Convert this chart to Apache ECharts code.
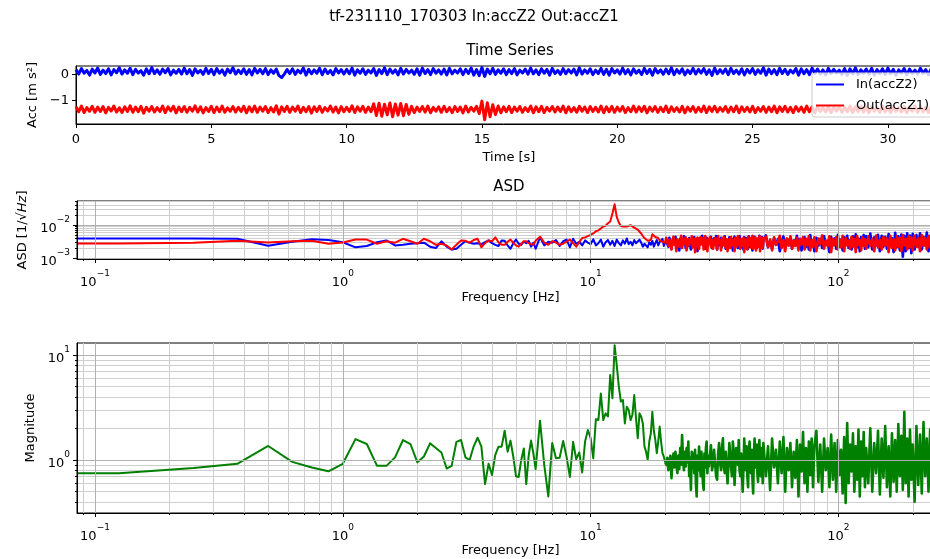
<!DOCTYPE html>
<html><head><meta charset="utf-8">
<script src="https://cdn.jsdelivr.net/npm/echarts@6/dist/echarts.min.js"></script>
<style>html,body{margin:0;padding:0;background:#fff}#c{width:930px;height:559px}</style>
</head><body><div id="c"></div>
<script>
const FONT = 'DejaVu Sans';
const mainTitle = 'tf-231110_170303 In:accZ2 Out:accZ1';
const panelTitles = ['Time Series', 'ASD'];
const legendNames = ['In(accZ2)', 'Out(accZ1)'];
const timeTicks = [0, 5, 10, 15, 20, 25, 30];
const accTicks = [-1, 0];
const freqTicks = [0.1, 1, 10, 100];
const freqMinor = [0.09,0.2,0.3,0.4,0.5,0.6,0.7,0.8,0.9,2,3,4,5,6,7,8,9,20,30,40,50,60,70,80,90,200];
const asdTicks = [0.001, 0.01];
const asdMinor = [0.002,0.003,0.004,0.005,0.006,0.007,0.008,0.009,0.02,0.03,0.04,0.05];
const magTicks = [1, 10];
const magMinor = [0.4,0.5,0.6,0.7,0.8,0.9,2,3,4,5,6,7,8,9];

const time = [
0,0.1,0.2,0.3,0.4,0.5,0.6,0.7,0.8,0.9,
1,1.1,1.2,1.3,1.4,1.5,1.6,1.7,1.8,1.9,
2,2.1,2.2,2.3,2.4,2.5,2.6,2.7,2.8,2.9,
3,3.1,3.2,3.3,3.4,3.5,3.6,3.7,3.8,3.9,
4,4.1,4.2,4.3,4.4,4.5,4.6,4.7,4.8,4.9,
5,5.1,5.2,5.3,5.4,5.5,5.6,5.7,5.8,5.9,
6,6.1,6.2,6.3,6.4,6.5,6.6,6.7,6.8,6.9,
7,7.1,7.2,7.3,7.4,7.5,7.6,7.7,7.8,7.9,
8,8.1,8.2,8.3,8.4,8.5,8.6,8.7,8.8,8.9,
9,9.1,9.2,9.3,9.4,9.5,9.6,9.7,9.8,9.9,
10,10.1,10.2,10.3,10.4,10.5,10.6,10.7,10.8,10.9,
11,11.1,11.2,11.3,11.4,11.5,11.6,11.7,11.8,11.9,
12,12.1,12.2,12.3,12.4,12.5,12.6,12.7,12.8,12.9,
13,13.1,13.2,13.3,13.4,13.5,13.6,13.7,13.8,13.9,
14,14.1,14.2,14.3,14.4,14.5,14.6,14.7,14.8,14.9,
15,15.1,15.2,15.3,15.4,15.5,15.6,15.7,15.8,15.9,
16,16.1,16.2,16.3,16.4,16.5,16.6,16.7,16.8,16.9,
17,17.1,17.2,17.3,17.4,17.5,17.6,17.7,17.8,17.9,
18,18.1,18.2,18.3,18.4,18.5,18.6,18.7,18.8,18.9,
19,19.1,19.2,19.3,19.4,19.5,19.6,19.7,19.8,19.9,
20,20.1,20.2,20.3,20.4,20.5,20.6,20.7,20.8,20.9,
21,21.1,21.2,21.3,21.4,21.5,21.6,21.7,21.8,21.9,
22,22.1,22.2,22.3,22.4,22.5,22.6,22.7,22.8,22.9,
23,23.1,23.2,23.3,23.4,23.5,23.6,23.7,23.8,23.9,
24,24.1,24.2,24.3,24.4,24.5,24.6,24.7,24.8,24.9,
25,25.1,25.2,25.3,25.4,25.5,25.6,25.7,25.8,25.9,
26,26.1,26.2,26.3,26.4,26.5,26.6,26.7,26.8,26.9,
27,27.1,27.2,27.3,27.4,27.5,27.6,27.7,27.8,27.9,
28,28.1,28.2,28.3,28.4,28.5,28.6,28.7,28.8,28.9,
29,29.1,29.2,29.3,29.4,29.5,29.6,29.7,29.8,29.9,
30,30.1,30.2,30.3,30.4,30.5,30.6,30.7,30.8,30.9,
31,31.1,31.2,31.3,31.4,31.5,31.6,31.7,31.8,31.9,
32];
const accIn = [
0.19,0.02,0.23,0.05,0.16,-0.02,0.21,0.06,0.25,0.01,
0.17,0.04,0.22,-0.01,0.19,0.07,0.26,0.02,0.18,0.05,
0.24,0.00,0.20,0.06,0.15,-0.02,0.22,0.03,0.27,0.04,
0.18,0.01,0.21,0.07,0.23,-0.01,0.17,0.05,0.20,0.02,
0.25,0.03,0.19,-0.03,0.22,0.06,0.16,0.01,0.24,0.04,
0.20,0.00,0.23,0.05,0.18,-0.02,0.21,0.07,0.26,0.02,
0.17,0.04,0.22,0.01,0.19,-0.01,0.24,0.06,0.20,0.03,
0.23,0.00,0.18,0.05,0.21,-0.04,-0.11,0.02,0.19,0.04,
0.22,0.01,0.17,0.06,0.25,-0.02,0.20,0.03,0.18,0.05,
0.24,0.00,0.21,0.04,0.16,-0.01,0.23,0.06,0.19,0.02,
0.20,0.03,0.25,-0.02,0.18,0.05,0.22,0.01,0.17,0.06,
0.23,-0.03,0.19,0.04,0.26,0.00,0.21,0.05,0.18,-0.01,
0.24,0.02,0.20,0.06,0.17,0.01,0.22,-0.02,0.25,0.04,
0.19,0.00,0.23,0.05,0.18,0.02,0.21,-0.01,0.24,0.03,
0.17,0.06,0.22,0.00,0.20,0.04,0.25,-0.02,0.19,-0.04,
0.27,-0.07,0.21,0.03,0.24,0.01,0.18,0.05,0.22,0.00,
0.19,0.04,0.23,-0.01,0.17,0.06,0.21,0.02,0.25,0.03,
0.18,0.00,0.22,0.05,0.20,-0.02,0.24,0.04,0.16,0.01,
0.23,0.03,0.19,0.06,0.21,-0.01,0.26,0.02,0.18,0.05,
0.22,0.00,0.17,0.04,0.24,0.01,0.20,-0.02,0.23,0.06,
0.18,0.02,0.25,0.03,0.19,-0.01,0.22,0.05,0.17,0.00,
0.24,0.04,0.20,-0.02,0.23,0.06,0.18,0.01,0.21,0.03,
0.26,0.00,0.19,0.05,0.22,-0.01,0.17,0.04,0.24,0.02,
0.20,0.06,0.23,0.01,0.18,-0.03,0.25,0.03,0.19,0.05,
0.21,0.00,0.24,0.04,0.17,0.02,0.22,-0.01,0.20,0.06,
0.23,0.01,0.18,0.05,0.26,-0.02,0.21,0.03,0.19,0.00,
0.24,0.04,0.20,0.01,0.17,0.06,0.23,-0.02,0.22,0.03,
0.19,0.00,0.25,0.05,0.21,0.02,0.18,-0.01,0.24,0.04,
0.20,0.06,0.17,0.01,0.23,-0.02,0.22,0.03,0.26,0.00,
0.18,0.05,0.21,0.02,0.24,-0.01,0.19,0.04,0.22,0.01,
0.25,0.03,0.20,-0.02,0.18,0.06,0.23,0.00,0.21,0.04,
0.17,0.02,0.24,0.05,0.19,-0.01,0.22,0.03,0.26,0.01,
0.20];
const accOut = [
-1.24,-1.43,-1.21,-1.46,-1.27,-1.41,-1.22,-1.45,-1.25,-1.42,
-1.23,-1.47,-1.26,-1.40,-1.21,-1.44,-1.28,-1.46,-1.24,-1.42,
-1.20,-1.45,-1.25,-1.43,-1.22,-1.48,-1.26,-1.41,-1.23,-1.44,
-1.27,-1.42,-1.21,-1.46,-1.24,-1.40,-1.22,-1.47,-1.25,-1.43,
-1.23,-1.45,-1.26,-1.41,-1.20,-1.44,-1.24,-1.47,-1.27,-1.42,
-1.22,-1.46,-1.25,-1.43,-1.21,-1.45,-1.28,-1.41,-1.23,-1.44,
-1.26,-1.42,-1.22,-1.47,-1.24,-1.43,-1.21,-1.45,-1.25,-1.41,
-1.23,-1.46,-1.27,-1.44,-1.20,-1.52,-1.24,-1.42,-1.22,-1.45,
-1.25,-1.41,-1.21,-1.46,-1.26,-1.43,-1.23,-1.48,-1.24,-1.42,
-1.22,-1.45,-1.27,-1.40,-1.21,-1.44,-1.25,-1.47,-1.23,-1.43,
-1.26,-1.42,-1.20,-1.46,-1.24,-1.41,-1.22,-1.45,-1.25,-1.43,
-1.12,-1.57,-1.10,-1.60,-1.14,-1.55,-1.09,-1.62,-1.13,-1.56,
-1.11,-1.58,-1.15,-1.53,-1.22,-1.46,-1.25,-1.42,-1.23,-1.44,
-1.21,-1.47,-1.26,-1.41,-1.24,-1.45,-1.22,-1.43,-1.27,-1.46,
-1.23,-1.42,-1.25,-1.47,-1.21,-1.44,-1.26,-1.41,-1.22,-1.50,
-1.02,-1.74,-1.08,-1.62,-1.16,-1.54,-1.21,-1.47,-1.24,-1.43,
-1.22,-1.46,-1.25,-1.41,-1.23,-1.45,-1.27,-1.42,-1.21,-1.47,
-1.24,-1.43,-1.22,-1.46,-1.26,-1.40,-1.23,-1.44,-1.25,-1.42,
-1.21,-1.47,-1.24,-1.43,-1.27,-1.45,-1.22,-1.41,-1.25,-1.46,
-1.23,-1.42,-1.26,-1.44,-1.21,-1.47,-1.24,-1.43,-1.22,-1.45,
-1.25,-1.41,-1.23,-1.46,-1.27,-1.43,-1.21,-1.44,-1.24,-1.42,
-1.22,-1.47,-1.25,-1.41,-1.23,-1.45,-1.26,-1.43,-1.21,-1.46,
-1.24,-1.42,-1.27,-1.44,-1.22,-1.47,-1.25,-1.41,-1.23,-1.45,
-1.26,-1.43,-1.21,-1.46,-1.24,-1.42,-1.22,-1.44,-1.27,-1.41,
-1.23,-1.45,-1.25,-1.43,-1.21,-1.47,-1.24,-1.42,-1.26,-1.44,
-1.22,-1.46,-1.27,-1.41,-1.23,-1.45,-1.25,-1.43,-1.21,-1.47,
-1.24,-1.42,-1.22,-1.44,-1.26,-1.46,-1.23,-1.41,-1.25,-1.45,
-1.21,-1.43,-1.24,-1.47,-1.22,-1.42,-1.27,-1.44,-1.23,-1.46,
-1.25,-1.41,-1.23,-1.45,-1.26,-1.43,-1.21,-1.46,-1.24,-1.42,
-1.22,-1.44,-1.25,-1.47,-1.23,-1.41,-1.26,-1.45,-1.21,-1.43,
-1.24,-1.46,-1.22,-1.42,-1.27,-1.44,-1.23,-1.47,-1.25,-1.41,
-1.21,-1.45,-1.24,-1.43,-1.26,-1.46,-1.22,-1.42,-1.25,-1.44,
-1.23];

const freq = [0.0846,
0.125,0.25,0.375,0.5,0.625,0.75,0.875,1,
1.125,1.25,1.375,1.5,1.625,1.75,1.875,2,
2.125,2.25,2.375,2.5,2.625,2.75,2.875,3,
3.125,3.25,3.375,3.5,3.625,3.75,3.875,4,
4.125,4.25,4.375,4.5,4.625,4.75,4.875,5,
5.125,5.25,5.375,5.5,5.625,5.75,5.875,6,
6.25,6.5,6.75,7,7.25,7.5,7.75,8,
8.25,8.5,8.75,9,9.25,9.5,9.75,10,
10.25,10.5,10.75,11,11.25,11.5,11.75,12,
12.25,12.5,12.75,13,13.25,13.5,13.75,14,
14.25,14.5,14.75,15,15.25,15.5,15.75,16,
16.25,16.5,16.75,17,17.25,17.5,17.75,18,
18.25,18.5,18.75,19,19.25,19.5,19.75,20,
20.2,20.4,20.6,20.8,21,21.2,21.4,21.6,21.8,22,
22.2,22.4,22.6,22.8,23,23.2,23.4,23.6,23.8,24,
24.2,24.4,24.6,24.8,25,25.2,25.4,25.6,25.8,26,
26.2,26.4,26.6,26.8,27,27.2,27.4,27.6,27.8,28,
28.2,28.4,28.6,28.8,29,29.2,29.4,29.6,29.8,30,
30.3,30.6,30.9,31.2,31.5,31.8,32.1,32.4,32.7,33,
33.3,33.6,33.9,34.2,34.5,34.8,35.1,35.4,35.7,36,
36.3,36.6,36.9,37.2,37.5,37.8,38.1,38.4,38.7,39,
39.3,39.6,39.9,40.2,40.5,40.8,41.1,41.4,41.7,42,
42.3,42.6,42.9,43.2,43.5,43.8,44.1,44.4,44.7,45,
45.3,45.6,45.9,46.2,46.5,46.8,47.1,47.4,47.7,48,
48.3,48.6,48.9,49.2,49.5,49.8,
51,52,53,54,55,56,57,58,59,60,61,62,63,64,65,66,67,68,69,70,71,72,73,74,75,76,77,78,79,80,
81.5,83,84.5,86,87.5,89,90.5,92,93.5,95,96.5,98,99.5,101,102.5,104,105.5,107,108.5,110,111.5,113,114.5,116,117.5,119,120.5,122,123.5,125,126.5,128,129.5,
132,134.5,137,139.5,142,144.5,147,149.5,152,154.5,157,159.5,162,164.5,167,169.5,172,174.5,177,179.5,182,184.5,187,189.5,192,194.5,197,199.5,
203,206.5,210,213.5,217,220.5,224,227.5,231,234.5,238,241.5,245,248.5,252,255.5,259,262.5,266,269.5];

const asdIn = [0.0039,
0.0039,0.0039,0.0038,0.00234,0.0031,0.0037,0.0035,0.003,
0.0021,0.0023,0.003,0.0034,0.0024,0.0025,0.0027,0.0028,
0.0029,0.0022,0.002,0.0032,0.0022,0.0018,0.0019,0.0025,
0.0032,0.0029,0.0027,0.0028,0.0026,0.003,0.0034,0.0028,
0.0025,0.0023,0.0034,0.0033,0.0024,0.0019,0.0028,0.0036,
0.0027,0.0025,0.0031,0.0028,0.0033,0.0022,0.0029,0.0019,
0.0042,0.0024,0.0031,0.0029,0.0035,0.0023,0.0032,0.0036,
0.0021,0.0038,0.0027,0.0031,0.0024,0.0034,0.0029,0.0026,
0.0037,0.0024,0.0028,0.0036,0.0022,0.003,0.0035,0.0025,
0.0033,0.0023,0.0036,0.0028,0.0024,0.0034,0.0027,0.0039,
0.0026,0.0031,0.0024,0.0035,0.0028,0.0025,0.0036,0.0029,
0.0022,0.0027,0.0024,0.0021,0.003,0.0025,0.0033,0.0022,
0.0028,0.0035,0.0024,0.003,0.0027,0.0038,0.0023,0.0032,
0.0036,0.0027,0.0022,0.0041,0.003,0.0019,0.0033,0.0038,0.0026,0.0044,
0.0021,0.0031,0.0035,0.0017,0.0038,0.0028,0.0024,0.0029,0.0045,0.0032,
0.002,0.0034,0.0039,0.0023,0.004,0.0027,0.0018,0.0032,0.0036,0.0025,
0.0043,0.0021,0.003,0.0035,0.0016,0.0033,0.0039,0.0025,0.0022,0.0031,
0.0047,0.0029,0.0022,0.0036,0.0019,0.0034,0.0041,0.0026,0.0023,0.0037,
0.0028,0.0044,0.002,0.0033,0.0039,0.0025,0.0046,0.0018,0.0031,0.0036,
0.0024,0.0041,0.0022,0.0033,0.0027,0.0045,0.0019,0.0035,0.0039,0.0025,
0.0042,0.0022,0.003,0.0036,0.0017,0.0034,0.0044,0.0023,0.0029,0.0038,
0.002,0.0033,0.0046,0.0026,0.0021,0.0037,0.0032,0.0018,0.0043,0.0028,
0.0024,0.0039,0.0034,0.0019,0.0045,0.0027,0.0022,0.0036,0.0031,0.0017,
0.0041,0.0029,0.0044,0.0023,0.0035,0.002,0.0038,0.0026,0.0032,0.0047,
0.0021,0.0036,0.0028,0.0043,0.0019,0.0034,
0.0048,0.0021,0.0033,0.0019,0.004,0.0025,0.0037,0.0016,0.0031,0.0045,0.0022,0.0036,0.0024,0.0042,0.0019,0.0034,0.0028,0.0047,0.0021,0.0038,0.0017,0.0035,0.0043,0.0022,0.0037,0.0018,0.0049,0.0025,0.0034,0.0016,
0.0041,0.0023,0.0038,0.002,0.0046,0.0027,0.0033,0.0015,0.0044,0.0024,0.0039,0.0019,0.005,0.0022,0.0036,0.0017,0.0042,0.0026,0.0047,0.002,0.0035,0.0018,0.0045,0.0023,0.0052,0.0021,0.0038,0.0016,0.0043,0.0025,0.0049,0.0019,0.0046,
0.0021,0.0055,0.0018,0.0042,0.0024,0.005,0.0016,0.0047,0.0022,0.0044,0.0019,0.0053,0.0023,0.004,0.0015,0.0058,0.0021,0.0045,0.0017,0.0051,0.0011,0.0047,0.0016,0.0056,0.002,0.0048,0.0014,0.0054,
0.0018,0.0049,0.0022,0.0056,0.0018,0.0044,0.0024,0.0059,0.0016,0.0047,0.002,0.0053,0.0015,0.0061,0.0022,0.0048,0.0017,0.0055,0.0021,0.0046];

const asdOut = [0.00275,
0.00275,0.0029,0.0033,0.00295,0.0032,0.0033,0.0027,0.00295,
0.0036,0.0036,0.0027,0.0032,0.0029,0.0038,0.0032,0.0027,
0.0038,0.0032,0.0025,0.0027,0.0024,0.0018,0.0025,0.0034,
0.0033,0.0029,0.0035,0.0038,0.0021,0.0028,0.0034,0.0032,
0.0042,0.003,0.0025,0.0025,0.0031,0.0036,0.0029,0.0024,
0.0022,0.0027,0.0032,0.0032,0.0028,0.0026,0.0025,0.0033,
0.0044,0.0029,0.0025,0.0032,0.0029,0.0025,0.0027,0.0031,
0.0036,0.0028,0.0022,0.003,0.004,0.0042,0.0046,0.005,
0.0055,0.0064,0.0068,0.0078,0.0089,0.0095,0.0112,0.0126,
0.022,0.042,0.0175,0.0118,0.0092,0.0089,0.0094,0.0089,
0.0093,0.0098,0.0087,0.0083,0.0079,0.0072,0.0067,0.0055,
0.0046,0.004,0.0036,0.0033,0.0032,0.0035,0.0052,0.0046,
0.0043,0.0039,0.004,0.0034,0.0036,0.0031,0.0033,0.0029,
0.0041,0.003,0.0023,0.0036,0.0027,0.0018,0.0034,0.0044,0.0025,0.0031,
0.0016,0.0037,0.0039,0.0022,0.0028,0.0047,0.002,0.0033,0.0038,0.0026,
0.0042,0.0017,0.0031,0.0037,0.0024,0.0035,0.0029,0.0045,0.0021,0.0032,
0.0038,0.0015,0.0027,0.0035,0.0041,0.0023,0.0019,0.0034,0.0043,0.0026,
0.0031,0.004,0.0018,0.0029,0.0046,0.0024,0.0033,0.0016,0.0037,0.0027,
0.0043,0.0022,0.0035,0.0019,0.0032,0.004,0.0026,0.0018,0.0046,0.0029,
0.0034,0.0017,0.0039,0.0024,0.0044,0.0027,0.0021,0.0037,0.0016,0.0032,
0.0037,0.002,0.0043,0.0028,0.0024,0.0035,0.0016,0.0041,0.003,0.0022,
0.0046,0.0026,0.0034,0.0019,0.0038,0.0033,0.0023,0.0041,0.0015,0.0031,
0.0036,0.0027,0.0018,0.0044,0.0025,0.0032,0.004,0.0021,0.0029,0.0047,
0.0019,0.0035,0.0024,0.0042,0.0017,0.0033,0.0038,0.0022,0.0027,0.0045,
0.0016,0.0036,0.0029,0.0041,0.002,0.0034,
0.0044,0.0022,0.0036,0.0017,0.0042,0.0025,0.0031,0.0047,0.002,0.0035,0.0016,0.0039,0.0024,0.0045,0.0019,0.0034,0.0023,0.0041,0.0017,0.0037,0.0026,0.0043,0.0018,0.0038,0.0024,0.0046,0.0017,0.0035,0.0022,0.0042,
0.0016,0.0039,0.0027,0.0048,0.0019,0.0034,0.0023,0.0045,0.0015,0.0037,0.0025,0.0043,0.0018,0.0036,0.0021,0.0047,0.0016,0.004,0.0024,0.0033,0.0019,0.0044,0.0022,0.0038,0.0015,0.0046,0.0025,0.0035,0.0017,0.0042,0.0023,0.0037,0.0019,
0.0045,0.0023,0.0038,0.0016,0.0048,0.0021,0.0036,0.0018,0.0044,0.0024,0.0039,0.0015,0.0047,0.002,0.0037,0.0017,0.0046,0.0022,0.0041,0.0016,0.0049,0.0024,0.0038,0.0018,0.0045,0.0021,0.0043,0.0017,
0.0047,0.0022,0.0039,0.0016,0.0049,0.0023,0.0041,0.0018,0.0046,0.0021,0.0044,0.0015,0.0048,0.0024,0.0038,0.0017,0.0047,0.0022,0.0043,0.0019];

const magnitude = [0.75,
0.75,0.84,0.92,1.36,0.96,0.85,0.78,0.92,
1.58,1.42,0.88,0.88,1.06,1.55,1.42,0.95,
1.08,1.44,1.30,1.18,0.83,0.88,1.49,1.55,
1.06,1.00,1.35,1.63,1.34,0.59,0.92,0.72,
1.12,1.34,1.34,1.90,1.20,1.53,1.08,0.70,
0.69,1.00,1.29,0.59,1.10,1.53,1.16,0.82,
2.37,0.90,0.45,1.45,1.04,1.05,1.52,1.07,
0.69,1.49,1.02,1.18,0.76,1.50,1.93,1.62,
1.04,2.44,2.40,4.30,2.40,2.78,2.60,6.45,
3.87,12.4,8.0,5.0,3.6,3.73,2.23,3.22,
3.0,2.4,2.7,4.16,2.5,1.61,2.78,2.6,
2.23,1.34,1.2,1.0,1.5,1.79,2.88,1.9,
1.55,1.16,1.5,2.08,1.5,1.16,1.075,0.95,
0.9,1.05,0.8,0.95,1.1,0.67,0.95,1.15,0.85,1.2,
0.9,0.75,1.1,0.82,1.3,0.9,1.73,1.05,0.8,1.2,
0.87,1.3,0.95,1.5,0.7,1.05,0.52,1.2,0.85,1.15,
0.75,1.25,0.6,0.45,1.1,0.8,1.34,0.95,0.7,1.2,
0.9,0.6,0.52,1.15,0.85,1.3,1.5,0.75,1.1,0.87,
1.1,1.38,0.8,0.9,1.25,1.2,0.7,0.65,1.15,1.45,
0.95,0.8,1.3,1.61,0.85,0.75,1.2,1.25,0.6,0.9,
1.45,1.1,0.85,0.7,1.5,1.2,0.58,0.9,1.3,1.05,
0.9,1.55,0.8,0.7,1.15,1.2,0.5,0.85,1.6,1.0,
0.8,1.35,0.7,0.55,1.2,1.5,0.95,0.75,1.25,0.65,
0.48,1.1,1.6,0.85,0.9,1.4,0.75,0.62,1.2,1.55,
0.9,0.7,1.3,1.1,0.6,1.45,
0.7,1.35,0.52,1.6,0.85,1.25,0.6,1.5,0.75,1.65,0.5,1.3,0.8,1.45,0.55,1.2,0.68,1.55,0.45,1.4,0.78,1.85,0.6,1.3,0.5,1.5,0.72,1.6,0.55,1.35,
1.9,0.62,1.4,0.5,1.6,0.8,1.3,0.55,1.75,0.65,1.45,0.5,1.55,0.72,1.25,0.48,1.65,0.39,2.25,0.6,1.4,0.78,1.8,0.5,1.35,0.65,1.95,0.45,1.5,0.7,1.85,0.55,1.3,
0.6,2.0,0.5,1.45,0.75,1.9,0.47,1.6,0.68,2.1,0.55,1.35,0.45,1.8,0.62,1.55,0.5,2.2,0.7,1.7,0.52,2.87,0.6,1.6,0.45,1.95,0.65,1.4,
0.4,2.1,0.58,1.75,0.48,2.3,0.7,1.6,0.5,1.95,0.62,2.2,0.45,1.5,0.68,2.0,0.5,1.8,0.6,1.7];

function pow10(v) {
  const k = Math.round(Math.log10(v));
  return '{b|10}{s|' + (k < 0 ? '\u2212' + (-k) : String(k)) + '}';
}
const supRich = {
  b: {fontSize: 13, fontFamily: FONT, color: '#000', lineHeight: 20, verticalAlign: 'bottom'},
  s: {fontSize: 9, fontFamily: FONT, color: '#000', lineHeight: 11, verticalAlign: 'top'}
};
const black = '#000';
const majorGrid = {show: true, lineStyle: {color: '#b0b0b0', width: 1}};
const minorGrid = {show: true, lineStyle: {color: '#cfcfcf', width: 1}};
const FMIN = 0.0846, FMAX = 266.8;

function logAxisPair(gridIndex, isX, min, max, majors, minors, nameCfg) {
  const major = Object.assign({
    type: 'log', logBase: 10, gridIndex, min, max,
    position: isX ? 'bottom' : 'left',
    axisLine: {show: true, lineStyle: {color: black, width: 1}},
    axisTick: {show: true, inside: false, length: 4, lineStyle: {color: black}, customValues: majors},
    axisLabel: {show: true, customValues: majors, formatter: pow10, rich: supRich, margin: isX ? 10 : 7, color: black},
    splitLine: majorGrid, minorTick: {show: false}, minorSplitLine: {show: false}, z: 3
  }, nameCfg || {});
  const minor = {
    type: 'log', logBase: 10, gridIndex, min, max,
    position: isX ? 'bottom' : 'left',
    axisLine: {show: false},
    axisTick: {show: true, inside: false, length: 2, lineStyle: {color: black}, customValues: minors},
    axisLabel: {show: false, customValues: minors},
    splitLine: minorGrid, z: 2
  };
  return [major, minor];
}

const nameStyle = {fontFamily: FONT, fontSize: 13, color: black};
const [asdX, asdXm] = logAxisPair(1, true, FMIN, FMAX, freqTicks, freqMinor,
  {name: 'Frequency [Hz]', nameLocation: 'middle', nameGap: 32, nameTextStyle: nameStyle});
const [magX, magXm] = logAxisPair(2, true, FMIN, FMAX, freqTicks, freqMinor,
  {name: 'Frequency [Hz]', nameLocation: 'middle', nameGap: 31, nameTextStyle: nameStyle});
const [asdY, asdYm] = logAxisPair(1, false, 0.000933, 0.0526, asdTicks, asdMinor,
  {name: 'ASD [1/\u221A{i|Hz}]', nameLocation: 'middle', nameGap: 37, nameRotate: 90,
   nameTextStyle: Object.assign({}, nameStyle, {rich: {i: {fontFamily: FONT, fontSize: 13, fontStyle: 'italic', color: black}}})});
const [magY, magYm] = logAxisPair(2, false, 0.313, 13.0, magTicks, magMinor,
  {name: 'Magnitude', nameLocation: 'middle', nameGap: 37, nameRotate: 90, nameTextStyle: nameStyle});

const pairs = (xs, ys) => xs.map((x, i) => [x, ys[i]]);
// the spectra are split where the sampling becomes dense, so the dense part can be drawn with a heavier stroke
const denseAt = freq.indexOf(20);
const lowPart = ys => pairs(freq.slice(0, denseAt + 1), ys.slice(0, denseAt + 1));
const highPart = ys => pairs(freq.slice(denseAt), ys.slice(denseAt));
const bad = accIn.length !== time.length || accOut.length !== time.length ||
  asdIn.length !== freq.length || asdOut.length !== freq.length || magnitude.length !== freq.length;

function spec(name, xi, yi, data, color, w) {
  return {name, type: 'line', xAxisIndex: xi, yAxisIndex: yi, data, showSymbol: false,
    lineStyle: {color, width: w, join: 'round'}, z: 2};
}

const chart = echarts.init(document.getElementById('c'), null, {renderer: 'canvas'});
chart.setOption({
  animation: false,
  backgroundColor: '#fff',
  textStyle: {fontFamily: FONT},
  grid: [
    {left: 76, top: 66, width: 866, height: 58, show: true, borderColor: black, borderWidth: 1, backgroundColor: 'transparent', outerBoundsMode: 'none', containLabel: false},
    {left: 77, top: 201, width: 867, height: 58, show: true, borderColor: black, borderWidth: 1, backgroundColor: 'transparent', outerBoundsMode: 'none', containLabel: false},
    {left: 77, top: 343, width: 867, height: 170, show: true, borderColor: black, borderWidth: 1, backgroundColor: 'transparent', outerBoundsMode: 'none', containLabel: false}
  ],
  graphic: [
    {type: 'text', x: 474, y: 17, z: 10, style: {text: mainTitle, font: '15px "DejaVu Sans"', fill: black, align: 'center', verticalAlign: 'middle'}},
    {type: 'text', x: 510, y: 51, z: 10, style: {text: panelTitles[0], font: '15px "DejaVu Sans"', fill: black, align: 'center', verticalAlign: 'middle'}},
    {type: 'text', x: 509, y: 187, z: 10, style: {text: panelTitles[1], font: '15px "DejaVu Sans"', fill: black, align: 'center', verticalAlign: 'middle'}}
  ].concat(bad ? [{type: 'text', x: 300, y: 300, style: {text: 'LEN ' + [time.length, accIn.length, accOut.length, freq.length, asdIn.length, asdOut.length, magnitude.length].join(','), font: '20px sans-serif', fill: 'magenta'}}] : []),
  legend: {
    data: legendNames, left: 812, top: 73, orient: 'vertical',
    itemWidth: 28, itemHeight: 2, itemGap: 6, icon: 'rect',
    padding: [4, 6, 4, 4],
    backgroundColor: 'rgba(255,255,255,0.8)', borderColor: '#cccccc', borderWidth: 1, borderRadius: 3,
    textStyle: {fontFamily: FONT, fontSize: 13, color: black, padding: [0, 0, 0, 7], lineHeight: 15},
    selectedMode: false
  },
  xAxis: [
    {type: 'value', gridIndex: 0, min: 0, max: 32,
     axisLine: {show: true, onZero: false, lineStyle: {color: black}},
     axisTick: {show: true, length: 4, lineStyle: {color: black}, customValues: timeTicks},
     axisLabel: {customValues: timeTicks, color: black, fontSize: 13, fontFamily: FONT, margin: 9},
     splitLine: {show: false},
     name: 'Time [s]', nameLocation: 'middle', nameGap: 27, nameTextStyle: nameStyle},
    asdX, asdXm, magX, magXm
  ],
  yAxis: [
    {type: 'value', gridIndex: 0, min: -1.9, max: 0.33,
     axisLine: {show: true, onZero: false, lineStyle: {color: black}},
     axisTick: {show: true, length: 4, lineStyle: {color: black}, customValues: accTicks},
     axisLabel: {customValues: accTicks, color: black, fontSize: 13, fontFamily: FONT, margin: 7,
       formatter: v => v < 0 ? '\u2212' + (-v) : String(v)},
     splitLine: {show: false},
     name: 'Acc [m s\u00B2]', nameLocation: 'middle', nameGap: 37, nameRotate: 90, nameTextStyle: nameStyle},
    asdY, asdYm, magY, magYm
  ],
  series: [
    {name: legendNames[0], type: 'line', xAxisIndex: 0, yAxisIndex: 0, data: pairs(time, accIn),
     showSymbol: false, color: '#0000ff', lineStyle: {color: '#0000ff', width: 3, join: 'round'}, z: 2},
    {name: legendNames[1], type: 'line', xAxisIndex: 0, yAxisIndex: 0, data: pairs(time, accOut),
     showSymbol: false, color: '#ff0000', lineStyle: {color: '#ff0000', width: 3, join: 'round'}, z: 2},
    spec('ASD In', 1, 1, lowPart(asdIn), '#0000ff', 2),
    spec('ASD In dense', 1, 1, highPart(asdIn), '#0000ff', 2.6),
    spec('ASD Out', 1, 1, lowPart(asdOut), '#ff0000', 2),
    spec('ASD Out dense', 1, 1, highPart(asdOut), '#ff0000', 2.6),
    spec('Magnitude', 3, 3, lowPart(magnitude), '#008000', 2),
    spec('Magnitude dense', 3, 3, highPart(magnitude), '#008000', 2.6)
  ]
});
</script></body></html>
